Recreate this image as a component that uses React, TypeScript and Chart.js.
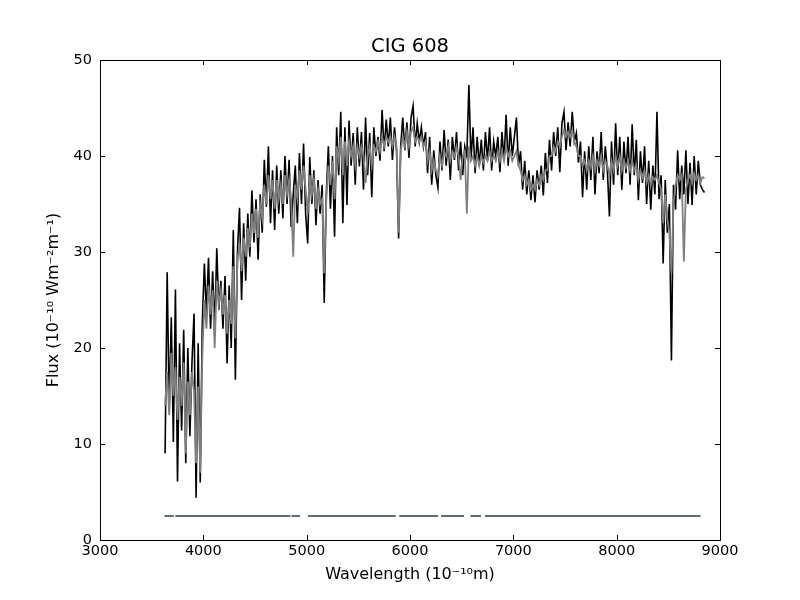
// @ts-nocheck
import {useEffect, useRef} from "react";
import {Chart, registerables} from "chart.js";

Chart.register(...registerables);

// wavelength grid of the spectrum (Angstrom)
const waveStart = 3630;
const waveStep = 20;

// observed spectrum (black)
const observedFlux = [
    9.0, 27.9, 13.5, 23.2, 10.2, 26.1, 6.1, 20.5, 11.4, 21.9,
    8.0, 20.0, 10.8, 18.5, 23.6, 4.4, 20.5, 6.0, 22.6, 28.8,
    23.5, 29.4, 22.0, 28.0, 21.9, 30.4, 24.0, 27.0, 22.0, 27.5,
    18.4, 26.5, 20.0, 32.3, 16.7, 30.0, 34.6, 25.0, 33.0, 27.0,
    34.0, 29.5, 36.4, 31.0, 35.5, 29.2, 36.0, 32.0, 39.6, 34.7,
    41.0, 33.0, 38.5, 32.3, 39.0, 34.0, 38.5, 33.5, 40.0, 35.0,
    39.6, 32.6, 36.0, 39.0, 33.0, 40.3, 35.0, 41.3, 34.0, 30.9,
    39.9, 35.0, 38.5, 32.8, 37.5, 34.0, 37.0, 24.7, 36.0, 41.0,
    34.5, 40.0, 31.6, 43.0, 38.0, 44.6, 33.0, 43.0, 34.9, 43.7,
    39.0, 42.4, 37.0, 43.0, 38.9, 42.5, 36.5, 44.0, 38.0, 42.4,
    35.7, 43.0, 40.0, 42.0, 39.5, 44.8, 40.5, 43.8, 41.0, 44.0,
    39.6, 43.0, 40.5, 31.4, 41.0, 44.0, 40.6, 43.5, 39.8, 44.0,
    45.2, 41.0, 43.4, 41.5, 43.0, 41.0, 42.5, 38.2, 42.0, 37.0,
    40.6, 38.0, 36.7, 41.5, 38.5, 42.7, 39.0, 41.7, 37.5, 42.0,
    39.6, 42.5, 38.5, 41.5, 38.0, 41.0, 40.0, 47.4, 39.6, 43.0,
    38.2, 42.0, 39.0, 41.7, 38.5, 42.5, 39.5, 43.0, 38.5, 41.5,
    39.9, 42.0, 38.3, 42.5, 39.5, 44.3, 39.0, 43.0, 40.0, 42.0,
    44.0, 39.0, 40.5, 36.5, 39.5, 36.0, 38.5, 35.4, 38.0, 35.2,
    38.5, 36.5, 39.0, 35.9, 40.3, 37.2, 41.7, 38.5, 42.5, 40.0,
    43.0, 38.3, 43.4, 44.6, 40.6, 43.5, 41.0, 44.6, 41.5, 42.4,
    39.3, 41.5, 35.7, 40.5, 36.5, 41.0, 37.5, 42.0, 36.0, 40.5,
    38.2, 42.5, 37.5, 41.0, 38.5, 33.7, 41.5, 37.0, 43.4, 38.0,
    42.0, 36.5, 41.5, 38.2, 42.0, 37.0, 43.3, 38.0, 41.7, 35.4,
    40.5, 37.2, 41.0, 35.0, 39.5, 34.4, 39.0, 36.0, 44.6, 35.5,
    38.0, 28.8, 37.5, 32.0, 35.0, 18.7, 37.0, 34.4, 40.6, 35.5,
    39.0, 36.0, 40.6, 35.0, 39.3, 34.9, 40.0, 36.0, 39.5, 37.0,
    36.5, 36.2,
];

// fitted model (grey)
const modelFlux = [
    14.0, 17.5, 13.0, 19.5, 15.0, 18.0, 12.5, 17.0, 14.0, 18.5,
    9.0, 16.5, 13.0, 17.5, 15.5, 8.0, 16.0, 7.0, 19.0, 25.0,
    22.0, 26.5, 23.5, 26.0, 20.0, 27.0, 24.5, 26.0, 23.5, 25.5,
    21.5, 25.0, 22.5, 28.5, 21.0, 29.0, 31.0, 28.0, 31.5, 29.5,
    32.5, 30.5, 34.0, 32.0, 34.5, 31.5, 35.0, 33.5, 37.0, 35.0,
    38.0, 35.5, 37.5, 34.5, 37.5, 35.5, 37.0, 35.0, 38.0, 36.0,
    37.5, 35.5, 29.5, 37.0, 35.5, 38.5, 36.5, 39.0, 36.5, 34.0,
    38.0, 36.0, 37.5, 34.5, 36.5, 35.0, 35.5, 27.8, 35.5, 39.0,
    37.0, 39.5, 35.5, 41.0, 39.5, 42.0, 38.0, 41.5, 39.0, 41.5,
    40.0, 41.0, 39.0, 41.0, 40.0, 41.0, 40.0, 37.2, 40.0, 41.0,
    39.0, 41.0, 40.5, 41.5, 40.5, 42.0, 41.0, 42.0, 41.5, 42.0,
    41.0, 42.0, 41.0, 32.0, 40.5, 42.0, 41.0, 42.5, 41.0, 42.5,
    43.0, 41.5, 42.0, 41.5, 42.0, 41.0, 41.5, 39.5, 40.5, 38.5,
    39.5, 38.5, 38.0, 40.0, 39.0, 40.5, 40.0, 41.0, 39.5, 40.5,
    40.0, 41.0, 40.0, 37.5, 40.0, 40.5, 34.0, 41.0, 39.5, 40.0,
    39.0, 40.0, 39.0, 40.0, 39.3, 40.0, 39.5, 40.5, 39.5, 40.0,
    39.5, 40.5, 39.5, 40.5, 39.5, 41.0, 40.0, 40.5, 39.5, 40.0,
    40.5, 39.0, 38.5, 37.5, 38.0, 37.0, 37.5, 36.5, 37.0, 36.5,
    37.5, 37.0, 38.0, 37.5, 38.5, 38.5, 40.0, 40.0, 41.0, 40.5,
    41.5, 41.0, 42.0, 42.7, 42.0, 42.5, 42.0, 42.7, 41.5, 41.0,
    40.0, 40.0, 39.0, 39.5, 38.5, 39.5, 38.8, 40.0, 38.5, 39.5,
    39.0, 40.0, 38.5, 39.5, 39.0, 38.0, 39.5, 38.5, 40.0, 39.0,
    40.0, 38.5, 39.5, 38.8, 39.5, 38.5, 39.5, 38.5, 39.0, 37.5,
    38.5, 37.8, 38.5, 37.2, 38.0, 37.0, 37.8, 37.5, 38.0, 37.2,
    36.5, 33.0, 36.0, 33.5, 32.0, 27.8, 35.0, 37.0, 38.0, 37.5,
    38.0, 29.0, 36.5, 37.5, 38.0, 37.2, 38.2, 37.5, 38.0, 37.2,
    37.8, 37.7,
];

// fitted wavelength ranges (mask bar)
const maskStart = [3623, 3729, 4853, 5012, 5896, 6301, 6585, 6726];
const maskEnd = [3714, 4843, 4935, 5862, 6272, 6523, 6687, 8811];
const maskLevel = 2.5;

const xTicks = [3000, 4000, 5000, 6000, 7000, 8000, 9000];
const yTicks = [0, 10, 20, 30, 40, 50];

const font = "'DejaVu Sans', sans-serif";

const framePlugin = {
    id: "frame",
    afterDraw(chart) {
        const {ctx, chartArea} = chart;
        const {left, right, top, bottom} = chartArea;
        const x = chart.scales.x;
        const y = chart.scales.y;
        ctx.save();
        ctx.strokeStyle = "#000";
        ctx.lineWidth = 1;
        ctx.strokeRect(Math.round(left) + 0.5, Math.round(top) + 0.5, Math.round(right - left), Math.round(bottom - top));
        ctx.beginPath();
        xTicks.forEach((v) => {
            const px = Math.round(x.getPixelForValue(v)) + 0.5;
            ctx.moveTo(px, bottom);
            ctx.lineTo(px, bottom - 5);
            ctx.moveTo(px, top);
            ctx.lineTo(px, top + 5);
        });
        yTicks.forEach((v) => {
            const py = Math.round(y.getPixelForValue(v)) + 0.5;
            ctx.moveTo(left, py);
            ctx.lineTo(left + 5, py);
            ctx.moveTo(right, py);
            ctx.lineTo(right - 5, py);
        });
        ctx.stroke();
        ctx.restore();
    },
};

export default function App() {
    const chartRef = useRef(null);

    useEffect(() => {
        document.body.style.margin = "0";
        const observed = observedFlux.map((v, i) => ({x: waveStart + i * waveStep, y: v}));
        const model = modelFlux.map((v, i) => ({x: waveStart + i * waveStep, y: v}));
        const mask = [];
        maskStart.forEach((s, i) => {
            mask.push({x: s, y: maskLevel});
            mask.push({x: maskEnd[i], y: maskLevel});
            mask.push({x: maskEnd[i], y: null});
        });

        const chart = new Chart(chartRef.current, {
            type: "line",
            data: {
                datasets: [
                    {label: "model", data: model, borderColor: "#7f7f7f", borderWidth: 1.8, pointRadius: 0},
                    {label: "observed", data: observed, borderColor: "#000000", borderWidth: 1.6, pointRadius: 0},
                    {label: "mask", data: mask, borderColor: "#5f6f76", borderWidth: 2, pointRadius: 0, spanGaps: false},
                ],
            },
            options: {
                animation: false,
                responsive: false,
                layout: {padding: {left: 0, right: 80, top: 0, bottom: 0}},
                plugins: {
                    legend: {display: false},
                    tooltip: {enabled: false},
                    title: {
                        display: true,
                        text: "CIG 608",
                        fullSize: false,
                        color: "#000",
                        font: {family: font, size: 19.5, weight: "normal"},
                        padding: {top: 35, bottom: 1.6},
                    },
                },
                scales: {
                    x: {
                        type: "linear",
                        min: 3000,
                        max: 9000,
                        afterFit: (s) => { s.height = 60; },
                        afterBuildTicks: (s) => { s.ticks = xTicks.map((v) => ({value: v})); },
                        grid: {display: false, drawTicks: false},
                        border: {display: false},
                        ticks: {color: "#000", padding: 3, font: {family: font, size: 14.5}, callback: (v) => String(v), maxRotation: 0},
                        title: {display: true, text: "Wavelength (10⁻¹⁰m)", color: "#000", font: {family: font, size: 16}, padding: {top: 0, bottom: 16}},
                    },
                    y: {
                        type: "linear",
                        min: 0,
                        max: 50,
                        afterFit: (s) => { s.width = 100; },
                        afterBuildTicks: (s) => { s.ticks = yTicks.map((v) => ({value: v})); },
                        grid: {display: false, drawTicks: false},
                        border: {display: false},
                        ticks: {color: "#000", padding: 8, font: {family: font, size: 14.5}, callback: (v) => String(v)},
                        title: {display: true, text: "Flux (10⁻¹⁰ Wm⁻²m⁻¹)", color: "#000", font: {family: font, size: 16}, padding: {top: 44, bottom: 0}},
                    },
                },
            },
            plugins: [framePlugin],
        });

        return () => {
            chart.destroy();
        };
    }, []);

    return (
        <div style={{position: "absolute", left: 0, top: 0, width: 800, height: 600, background: "#fff"}}>
            <canvas ref={chartRef} width={800} height={600}/>
        </div>
    );
}
